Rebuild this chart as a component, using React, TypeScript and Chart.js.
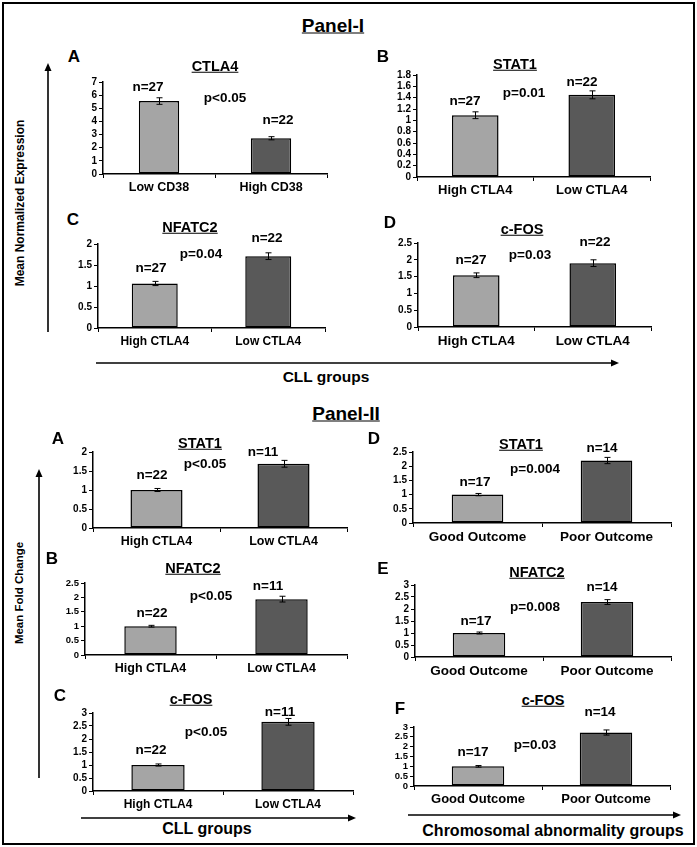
import React, { useEffect, useRef } from "react";
import { Chart, registerables } from "chart.js";
Chart.register(...registerables);

// ---------------- DATA ----------------
const CD38_GROUPS = ["Low CD38", "High CD38"];
const CTLA4_GROUPS = ["High CTLA4", "Low CTLA4"];
const OUTCOME_GROUPS = ["Good Outcome", "Poor Outcome"];

// Panel-I (Mean Normalized Expression)
const P1A_MEANS = [5.55, 2.72];
const P1A_ERRORS = [0.25, 0.12];
const P1A_N = [27, 22];
const P1B_MEANS = [1.09, 1.45];
const P1B_ERRORS = [0.06, 0.07];
const P1B_N = [27, 22];
const P1C_MEANS = [1.06, 1.71];
const P1C_ERRORS = [0.05, 0.08];
const P1C_N = [27, 22];
const P1D_MEANS = [1.54, 1.9];
const P1D_ERRORS = [0.07, 0.1];
const P1D_N = [27, 22];

// Panel-II (Mean Fold Change)
const P2A_MEANS = [1.0, 1.69];
const P2A_ERRORS = [0.04, 0.09];
const P2A_N = [22, 11];
const P2B_MEANS = [1.0, 1.94];
const P2B_ERRORS = [0.03, 0.1];
const P2B_N = [22, 11];
const P2C_MEANS = [1.0, 2.66];
const P2C_ERRORS = [0.04, 0.13];
const P2C_N = [22, 11];
const P2D_MEANS = [1.0, 2.2];
const P2D_ERRORS = [0.04, 0.11];
const P2D_N = [17, 14];
const P2E_MEANS = [1.0, 2.29];
const P2E_ERRORS = [0.04, 0.1];
const P2E_N = [17, 14];
const P2F_MEANS = [1.0, 2.72];
const P2F_ERRORS = [0.04, 0.13];
const P2F_N = [17, 14];

const P_VALUES = ["p<0.05", "p=0.01", "p=0.04", "p=0.03", "p<0.05", "p<0.05", "p<0.05", "p=0.004", "p=0.008", "p=0.03"];
const GENE_TITLES = ["CTLA4", "STAT1", "NFATC2", "c-FOS", "STAT1", "NFATC2", "c-FOS", "STAT1", "NFATC2", "c-FOS"];
const PANEL_LETTERS = ["A", "B", "C", "D", "A", "B", "C", "D", "E", "F"];
const Y_MAX = [7, 1.8, 2, 2.5, 2, 2.5, 3, 2.5, 3, 3];
const Y_STEP = [1, 0.2, 0.5, 0.5, 0.5, 0.5, 0.5, 0.5, 0.5, 0.5];

const BAR_COLORS = ["#a5a5a5", "#595959"];
const FONT = '"Liberation Sans", Arial, Helvetica, sans-serif';

// ---------------- LAYOUT ----------------
type Layout = {
  axisX: number; plotRight: number; yTop: number; yZero: number; barPct: number;
  tickSize: number; xSize: number;
  letter: [number, number]; title: [number, number];
  n1: [number, number]; n2: [number, number]; p: [number, number];
};

const LAYOUTS: Layout[] = [
  { axisX: 103, plotRight: 327, yTop: 82, yZero: 174, barPct: 0.36, tickSize: 10, xSize: 12.5, letter: [74, 56], title: [215, 66], n1: [148, 87], n2: [278, 120], p: [225, 98] },
  { axisX: 417, plotRight: 650, yTop: 75, yZero: 177, barPct: 0.4, tickSize: 10, xSize: 13, letter: [383, 56], title: [515, 64], n1: [465, 101], n2: [582, 82], p: [524, 93] },
  { axisX: 98, plotRight: 325, yTop: 244, yZero: 328, barPct: 0.405, tickSize: 10, xSize: 12, letter: [73, 219], title: [190, 227], n1: [151, 268], n2: [267, 238], p: [201, 254] },
  { axisX: 418, plotRight: 651, yTop: 243, yZero: 327, barPct: 0.4, tickSize: 10, xSize: 13.5, letter: [390, 222], title: [522, 229], n1: [471, 260], n2: [595, 242], p: [530, 255] },
  { axisX: 93, plotRight: 347, yTop: 452, yZero: 528, barPct: 0.41, tickSize: 10, xSize: 12.5, letter: [58, 438], title: [200, 443], n1: [152, 475], n2: [263, 452], p: [205, 464] },
  { axisX: 85, plotRight: 347, yTop: 583, yZero: 655, barPct: 0.4, tickSize: 9.5, xSize: 12.5, letter: [52, 558], title: [193, 568], n1: [152, 613], n2: [268, 586], p: [211, 596] },
  { axisX: 93, plotRight: 353, yTop: 713, yZero: 791, barPct: 0.41, tickSize: 10, xSize: 12, letter: [60, 695], title: [191, 699], n1: [151, 750], n2: [280, 712], p: [206, 732] },
  { axisX: 413, plotRight: 671, yTop: 452, yZero: 523, barPct: 0.4, tickSize: 10, xSize: 13.5, letter: [374, 438], title: [521, 444], n1: [475, 482], n2: [602, 448], p: [535, 469] },
  { axisX: 415, plotRight: 671, yTop: 585, yZero: 657, barPct: 0.41, tickSize: 10, xSize: 13.5, letter: [383, 568], title: [537, 572], n1: [476, 621], n2: [602, 587], p: [535, 607] },
  { axisX: 414, plotRight: 670, yTop: 727, yZero: 786, barPct: 0.41, tickSize: 9.5, xSize: 13, letter: [400, 708], title: [543, 700], n1: [473, 752], n2: [600, 712], p: [535, 745] },
];

const CHART_DATA = [
  { cats: CD38_GROUPS, means: P1A_MEANS, errs: P1A_ERRORS, n: P1A_N },
  { cats: CTLA4_GROUPS, means: P1B_MEANS, errs: P1B_ERRORS, n: P1B_N },
  { cats: CTLA4_GROUPS, means: P1C_MEANS, errs: P1C_ERRORS, n: P1C_N },
  { cats: CTLA4_GROUPS, means: P1D_MEANS, errs: P1D_ERRORS, n: P1D_N },
  { cats: CTLA4_GROUPS, means: P2A_MEANS, errs: P2A_ERRORS, n: P2A_N },
  { cats: CTLA4_GROUPS, means: P2B_MEANS, errs: P2B_ERRORS, n: P2B_N },
  { cats: CTLA4_GROUPS, means: P2C_MEANS, errs: P2C_ERRORS, n: P2C_N },
  { cats: OUTCOME_GROUPS, means: P2D_MEANS, errs: P2D_ERRORS, n: P2D_N },
  { cats: OUTCOME_GROUPS, means: P2E_MEANS, errs: P2E_ERRORS, n: P2E_N },
  { cats: OUTCOME_GROUPS, means: P2F_MEANS, errs: P2F_ERRORS, n: P2F_N },
];

const PAD_LEFT = 40;
const PAD_RIGHT = 8;
const PAD_TOP = 10;
const PAD_BOTTOM = 26;

function MiniBar({ idx }: { idx: number }) {
  const ref = useRef<HTMLCanvasElement | null>(null);
  const L = LAYOUTS[idx];
  const D = CHART_DATA[idx];
  const width = L.plotRight - L.axisX + PAD_LEFT + PAD_RIGHT;
  const height = L.yZero - L.yTop + PAD_TOP + PAD_BOTTOM;

  useEffect(() => {
    if (!ref.current) return;
    const errs = D.errs;
    const errorBars = {
      id: "errorBars",
      afterDatasetsDraw(chart: any) {
        const ctx = chart.ctx;
        const meta = chart.getDatasetMeta(0);
        const ys = chart.scales.y;
        ctx.save();
        ctx.strokeStyle = "#000";
        ctx.lineWidth = 1;
        meta.data.forEach((bar: any, i: number) => {
          const v = D.means[i];
          const e = errs[i];
          const x = Math.round(bar.x) + 0.5;
          const yHi = ys.getPixelForValue(v + e);
          const yLo = ys.getPixelForValue(v - e);
          ctx.beginPath();
          ctx.moveTo(x, yHi);
          ctx.lineTo(x, yLo);
          ctx.moveTo(x - 3, yHi);
          ctx.lineTo(x + 3, yHi);
          ctx.moveTo(x - 3, yLo);
          ctx.lineTo(x + 3, yLo);
          ctx.stroke();
        });
        ctx.restore();
      },
    };
    const chart = new Chart(ref.current, {
      type: "bar",
      data: {
        labels: D.cats,
        datasets: [
          {
            data: D.means,
            backgroundColor: BAR_COLORS,
            borderColor: "#000",
            borderWidth: 1.5,
            borderSkipped: false,
            categoryPercentage: 1,
            barPercentage: L.barPct,
          },
        ],
      },
      options: {
        responsive: false,
        maintainAspectRatio: false,
        animation: false,
        devicePixelRatio: 1,
        layout: { padding: { top: PAD_TOP, right: PAD_RIGHT, left: 0, bottom: 0 } },
        plugins: { legend: { display: false }, tooltip: { enabled: false }, title: { display: false } },
        scales: {
          x: {
            type: "category",
            offset: true,
            grid: { display: true, offset: true, drawOnChartArea: false, drawTicks: true, tickLength: 4, color: "#000", lineWidth: 1 },
            border: { display: true, color: "#000", width: 1.5 },
            ticks: { color: "#000", font: { family: FONT, size: L.xSize, weight: "bold" }, maxRotation: 0, minRotation: 0, autoSkip: false, padding: 2 },
            afterFit: (s: any) => { s.height = PAD_BOTTOM; },
          },
          y: {
            min: 0,
            max: Y_MAX[idx],
            ticks: {
              stepSize: Y_STEP[idx],
              autoSkip: false,
              color: "#000",
              padding: 2,
              font: { family: FONT, size: L.tickSize, weight: "bold" },
              callback: (v: any) => String(+Number(v).toFixed(2)),
            },
            grid: { display: true, drawOnChartArea: false, drawTicks: true, tickLength: 4, color: "#000", lineWidth: 1 },
            border: { display: true, color: "#000", width: 1.5 },
            afterFit: (s: any) => { s.width = PAD_LEFT; },
          },
        },
      } as any,
      plugins: [errorBars as any],
    });
    return () => chart.destroy();
  }, [idx]);

  return (
    <canvas
      ref={ref}
      width={width}
      height={height}
      style={{ position: "absolute", left: L.axisX - PAD_LEFT, top: L.yTop - PAD_TOP, width, height }}
    />
  );
}

function Txt({ x, y, text, size, bold = true, underline = false, rotate = 0 }: any) {
  return (
    <div
      style={{
        position: "absolute",
        left: x,
        top: y,
        transform: `translate(-50%, -50%) rotate(${rotate}deg)`,
        fontFamily: FONT,
        fontSize: size,
        fontWeight: bold ? "bold" : "normal",
        lineHeight: 1,
        whiteSpace: "nowrap",
        color: "#000",
        textDecoration: underline ? "underline" : "none",
      }}
    >
      {text}
    </div>
  );
}

function Arrow({ x1, y1, x2, y2 }: { x1: number; y1: number; x2: number; y2: number }) {
  const dx = x2 - x1;
  const dy = y2 - y1;
  const len = Math.hypot(dx, dy);
  const ux = dx / len;
  const uy = dy / len;
  const hl = 8;
  const hw = 3.5;
  const bx = x2 - ux * hl;
  const by = y2 - uy * hl;
  const pts = `${x2},${y2} ${bx - uy * hw},${by + ux * hw} ${bx + uy * hw},${by - ux * hw}`;
  return (
    <g>
      <line x1={x1} y1={y1} x2={bx} y2={by} stroke="#000" strokeWidth={1.6} />
      <polygon points={pts} fill="#000" />
    </g>
  );
}

export default function App() {
  return (
    <div style={{ position: "absolute", left: 0, top: 0, width: 697, height: 847, background: "#fff", overflow: "hidden" }}>
      <svg width={697} height={847} style={{ position: "absolute", left: 0, top: 0 }}>
        <rect x={3} y={3} width={691} height={841} fill="none" stroke="#000" strokeWidth={2} />
        <Arrow x1={48} y1={332} x2={48} y2={63} />
        <Arrow x1={96} y1={363} x2={619} y2={363} />
        <Arrow x1={39} y1={778} x2={39} y2={469} />
        <Arrow x1={81} y1={818} x2={356} y2={818} />
        <Arrow x1={408} y1={815} x2={681} y2={815} />
      </svg>

      {LAYOUTS.map((_, i) => (
        <MiniBar key={i} idx={i} />
      ))}

      <Txt x={333} y={25} text="Panel-I" size={19} underline />
      <Txt x={346} y={413} text="Panel-II" size={19} underline />
      <Txt x={20} y={203} text="Mean Normalized Expression" size={12} rotate={-90} />
      <Txt x={20} y={593} text="Mean Fold Change" size={11.5} rotate={-90} />
      <Txt x={326} y={377} text="CLL groups" size={15.5} />
      <Txt x={207} y={829} text="CLL groups" size={16} />
      <Txt x={553} y={831} text="Chromosomal abnormality groups" size={16} />

      {LAYOUTS.map((L, i) => (
        <React.Fragment key={"t" + i}>
          <Txt x={L.letter[0]} y={L.letter[1]} text={PANEL_LETTERS[i]} size={17} />
          <Txt x={L.title[0]} y={L.title[1]} text={GENE_TITLES[i]} size={14.5} underline />
          <Txt x={L.n1[0]} y={L.n1[1]} text={`n=${CHART_DATA[i].n[0]}`} size={13.5} />
          <Txt x={L.n2[0]} y={L.n2[1]} text={`n=${CHART_DATA[i].n[1]}`} size={13.5} />
          <Txt x={L.p[0]} y={L.p[1]} text={P_VALUES[i]} size={13.5} />
        </React.Fragment>
      ))}
    </div>
  );
}
